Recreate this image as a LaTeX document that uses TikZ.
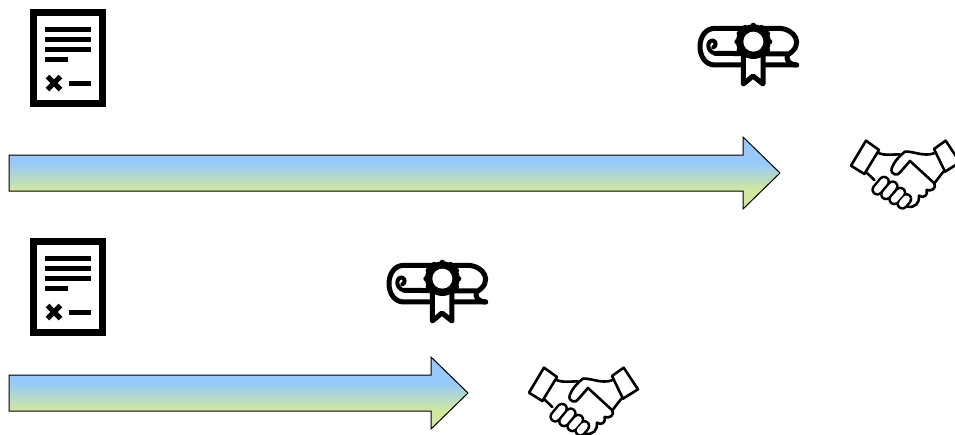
\documentclass[tikz,border=0pt]{standalone}
\usepackage{xcolor}
\usepackage{tikz}
\definecolor{arrowblue}{RGB}{151,201,250}
\definecolor{arrowgreen}{RGB}{209,232,158}
\pgfdeclareverticalshading{bluegreen}{100bp}{color(0bp)=(arrowgreen); color(38bp)=(arrowgreen); color(57bp)=(arrowblue); color(100bp)=(arrowblue)}
\begin{document}
\begin{tikzpicture}[
    x=1pt, y=-1pt,
    timeline/.style={draw=black, line width=1pt, shading=bluegreen},
    ink/.style={draw=black, line width=#1, line join=round, line cap=round},
    ink/.default=2.6pt,
    docicon/.pic={
        \fill[black] (30,9) rectangle (106,107);
        \fill[white] (37,16) rectangle (99,100);
        \foreach \liney in {26.5,36.5,46.5} {
            \fill[black] (45,\liney) rectangle (91,\liney+5);
        }
        \fill[black] (45,56.5) rectangle (68,61.5);
        \draw[ink=5.2pt, line cap=butt] (47.5,76.5) -- (60.5,89.5) (60.5,76.5) -- (47.5,89.5);
        \fill[black] (69,80.5) rectangle (91,85.5);
    },
    diplomaicon/.pic={
        \begin{scope}[shift={(680,10)}, x=0.3333pt, y=-0.3333pt]
        % roll
        \draw[ink=5pt] (295,55) -- (105,55) .. controls (45,55) and (45,165) .. (105,165) -- (350,165);
        \draw[ink=5pt] (295,55) .. controls (345,55) and (375,105) .. (322,135) .. controls (318,152) and (328,164) .. (350,165);
        \draw[ink=5pt] (105,130) -- (322,132);
        \draw[ink=4pt] (105,130) .. controls (78,125) and (80,88) .. (100,92) .. controls (110,95) and (108,110) .. (100,112);
        % seal
        \foreach \sealang in {0,30,...,330} {
            \fill[black] (220,95) ++(\sealang:49) circle[radius=8];
        }
        % ribbon
        \draw[ink=5pt, fill=white] (190,135) -- (190,222) -- (219,198) -- (249,222) -- (249,135);
        \fill[black] (220,95) circle[radius=52];
        \fill[white] (220,95) circle[radius=30];
        \end{scope}
    },
    shakeicon/.pic={
        \begin{scope}[shift={(835,125)}, x=0.3333pt, y=-0.3333pt]
        % cuffs
        \draw[ink] (93,47) -- (132,75) -- (88,147) -- (48,122) -- cycle;
        \draw[ink] (297,72) -- (332,47) -- (375,112) -- (330,140) -- cycle;
        % wrists and hand backs
        \draw[ink] (132,85) .. controls (150,92) and (175,88) .. (195,88);
        \draw[ink] (297,85) .. controls (265,96) and (235,78) .. (210,80) .. controls (190,95) and (175,115) .. (170,130)
            .. controls (165,150) and (190,155) .. (197,140) -- (225,108) -- (298,175)
            .. controls (305,190) and (290,200) .. (275,195) .. controls (280,210) and (265,222) .. (252,212)
            .. controls (255,232) and (240,252) .. (215,244);
        \draw[ink] (325,140) -- (298,175);
        \draw[ink] (95,143) -- (118,165);
        % fingers
        \foreach \fingx/\fingy/\fingdx/\fingdy in {137/182/10/-12, 163/196/10/-12, 187/213/9/-10, 208/229/6/-7} {
            \draw[ink=12pt] (\fingx-\fingdx,\fingy-\fingdy) -- (\fingx+\fingdx,\fingy+\fingdy);
        }
        \foreach \fingx/\fingy/\fingdx/\fingdy in {137/182/10/-12, 163/196/10/-12, 187/213/9/-10, 208/229/6/-7} {
            \draw[ink=7pt, draw=white] (\fingx-\fingdx,\fingy-\fingdy) -- (\fingx+\fingdx,\fingy+\fingdy);
        }
        \end{scope}
    },
]
\useasboundingbox (0,0) rectangle (955,434);
% long line
\shade[timeline] (9,155) -- (743,155) -- (743,137) -- (780,173) -- (743,209) -- (743,191) -- (9,191) -- cycle;
\pic (longdoc) at (0,0) {docicon};
\pic (longdiploma) at (0,0) {diplomaicon};
\pic (longshake) at (0,0) {shakeicon};
% short line
\shade[timeline] (9,375) -- (431,375) -- (431,357) -- (468,393) -- (431,429) -- (431,411) -- (9,411) -- cycle;
\pic (shortdoc) at (0,229) {docicon};
\pic (shortdiploma) at (-311,237) {diplomaicon};
\pic (shortshake) at (-322,227) {shakeicon};
\end{tikzpicture}
\end{document}
